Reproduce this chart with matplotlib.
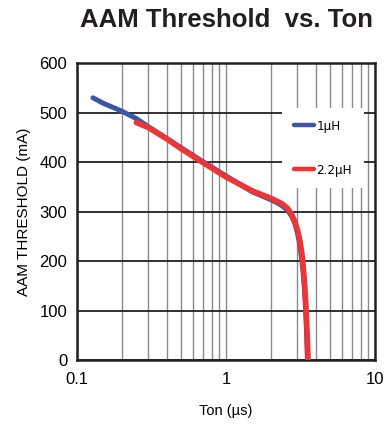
import numpy as np
import matplotlib.pyplot as plt
from matplotlib.ticker import LogLocator, NullFormatter, FixedLocator, FixedFormatter

plt.rcParams['font.family'] = ['Liberation Sans', 'DejaVu Sans']

blue_x = [0.128, 0.15, 0.2, 0.25, 0.3, 0.4, 0.5, 0.7, 1.0, 1.5, 2.0, 2.2, 2.4, 2.6, 2.75,
          2.9, 3.02, 3.12, 3.22, 3.3, 3.36, 3.42, 3.47, 3.52]
blue_y = [530, 519, 503, 488, 472, 448, 429, 401, 372, 340, 324, 318, 311, 302, 291,
          276, 256, 235, 205, 175, 145, 105, 60, 0]
red_x = [0.25, 0.3, 0.4, 0.5, 0.7, 1.0, 1.5, 2.0, 2.2, 2.4, 2.6, 2.75, 2.9, 3.05, 3.15,
         3.25, 3.32, 3.38, 3.44, 3.5, 3.56]
red_y = [480, 470, 447, 427, 399, 370, 342, 327, 321, 315, 306, 295, 280, 258, 238,
         210, 180, 150, 110, 60, 0]
labels = ['1µH', '2.2µH']
x_ticks = [0.1, 1, 10]
x_tick_labels = ['0.1', '1', '10']
y_ticks = [0, 100, 200, 300, 400, 500, 600]

fig = plt.figure(figsize=(3.84, 4.24), dpi=100)
ax = fig.add_axes([0.2005, 0.151, 0.776, 0.700])

ax.plot(blue_x, blue_y, color='#3b55a8', lw=3.6, solid_capstyle='round', label=labels[0], zorder=3)
ax.plot(red_x, red_y, color='#ee3535', lw=4.0, solid_capstyle='round', label=labels[1], zorder=4)

ax.set_xscale('log')
ax.set_xlim(0.1, 10)
ax.set_ylim(0, 600)
ax.xaxis.set_major_locator(FixedLocator(x_ticks))
ax.xaxis.set_major_formatter(FixedFormatter(x_tick_labels))
ax.xaxis.set_minor_locator(LogLocator(base=10, subs=np.arange(2, 10)))
ax.xaxis.set_minor_formatter(NullFormatter())
ax.set_yticks(y_ticks)

ax.grid(True, axis='x', which='both', color='#8a8a8a', lw=1.0)
ax.grid(True, axis='y', which='major', color='#222222', lw=1.3)
ax.tick_params(which='both', length=0, labelsize=12, pad=7)
ax.tick_params(axis='x', pad=9)
for s in ax.spines.values():
    s.set_linewidth(1.8)
    s.set_color('#231f20')

ax.set_xlabel('Ton (µs)', fontsize=10.5, labelpad=12)
ax.set_ylabel('AAM THRESHOLD (mA)', fontsize=11, labelpad=6)
fig.text(0.59, 0.952, 'AAM Threshold  vs. Ton', fontsize=18.5, fontweight='bold',
         ha='center', va='center', color='#231f20')

leg = ax.legend(loc='upper left', bbox_to_anchor=(0.688, 0.85), frameon=True,
                fancybox=False, edgecolor='none', facecolor='white', framealpha=1,
                prop={'family': 'DejaVu Sans', 'stretch': 'condensed', 'size': 9.5},
                handlelength=1.5, handletextpad=0.2, labelspacing=2.35,
                borderpad=0.9, borderaxespad=0)
for line in leg.get_lines():
    line.set_linewidth(3.2)

fig.savefig('out.png', dpi=100)
